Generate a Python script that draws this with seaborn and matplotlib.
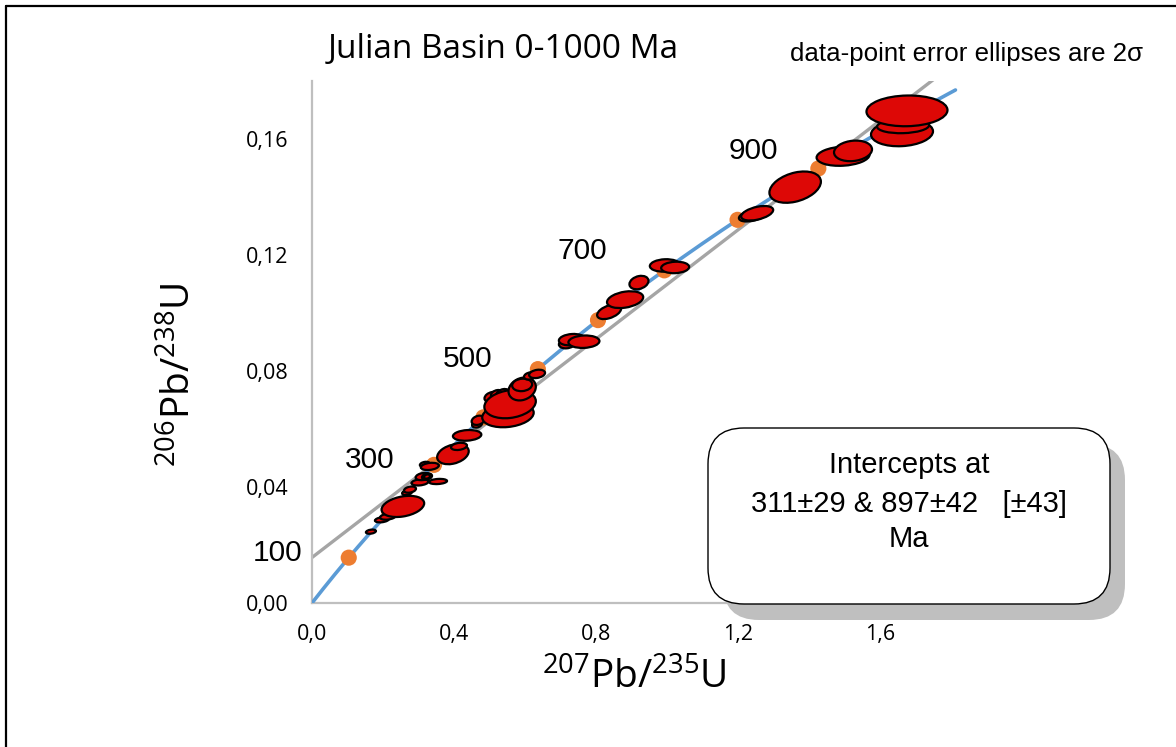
import numpy as np
import pandas as pd
import matplotlib
matplotlib.use("Agg")
import matplotlib.pyplot as plt
import seaborn as sns
from matplotlib.patches import Ellipse, FancyBboxPatch
from matplotlib.lines import Line2D

# ---------------- data ----------------
# decay constants (per Ma)
L238 = 1.55125e-4
L235 = 9.8485e-4

concordia_range_ma = [0, 1050]
marker_ages_ma = [100, 200, 300, 400, 500, 600, 700, 800, 900, 1000]
label_ages_ma = [100, 300, 500, 700, 900]
intercepts_ma = [311, 897]

# analyses: 207Pb/235U, 206Pb/238U, 2-sigma half extents, error correlation
x_ratio = [0.166, 0.197, 0.214, 0.256, 0.268, 0.276, 0.304, 0.313, 0.324, 0.324,
           0.355, 0.318, 0.332, 0.397, 0.414, 0.437, 0.465, 0.468, 0.507, 0.521,
           0.538, 0.552, 0.558, 0.592, 0.592, 0.614, 0.634, 0.718, 0.732, 0.766,
           0.837, 0.882, 0.921, 0.994, 1.023, 1.242, 1.254, 1.361, 1.496, 1.524,
           1.662, 1.665, 1.676]
y_ratio = [0.0246, 0.0287, 0.0298, 0.0333, 0.0381, 0.0391, 0.0416, 0.0436, 0.0436, 0.0436,
           0.0419, 0.0478, 0.0471, 0.0513, 0.0540, 0.0578, 0.0617, 0.0630, 0.0710, 0.0720,
           0.0720, 0.0648, 0.0686, 0.0738, 0.0752, 0.0783, 0.0790, 0.0894, 0.0908, 0.0901,
           0.1004, 0.1046, 0.1105, 0.1164, 0.1157, 0.1337, 0.1344, 0.1434, 0.1541, 0.1559,
           0.1621, 0.1645, 0.1697]
x_err2s = [0.0141, 0.0197, 0.0225, 0.0600, 0.0141, 0.0169, 0.0239, 0.0211, 0.0141, 0.0085,
           0.0254, 0.0141, 0.0254, 0.0445, 0.0225, 0.0400, 0.0141, 0.0183, 0.0211, 0.0169,
           0.0197, 0.0725, 0.0725, 0.0385, 0.0282, 0.0169, 0.0225, 0.0225, 0.0366, 0.0437,
           0.0338, 0.0510, 0.0268, 0.0423, 0.0394, 0.0394, 0.0451, 0.0725, 0.0746, 0.0535,
           0.0873, 0.0732, 0.1141]
y_err2s = [0.00072, 0.00090, 0.00108, 0.00365, 0.00090, 0.00108, 0.00108, 0.00125, 0.00108, 0.00072,
           0.00090, 0.00090, 0.00125, 0.00345, 0.00125, 0.00185, 0.00125, 0.00160, 0.00180, 0.00145,
           0.00180, 0.00420, 0.00490, 0.00395, 0.00215, 0.00125, 0.00145, 0.00160, 0.00198, 0.00215,
           0.00250, 0.00290, 0.00232, 0.00215, 0.00198, 0.00215, 0.00250, 0.00540, 0.00335, 0.00355,
           0.00460, 0.00250, 0.00530]
rho = [0.3, 0.3, 0.3, 0.3, 0.3, 0.3, 0.25, 0.25, 0.25, 0.25,
       0.2, 0.25, 0.25, 0.3, 0.25, 0.15, 0.25, 0.25, 0.25, 0.25,
       0.25, 0.2, 0.2, 0.2, 0.1, 0.25, 0.25, 0.15, 0.15, 0.1,
       0.45, 0.3, 0.25, 0.1, 0.1, 0.45, 0.45, 0.35, 0.15, 0.15,
       0.12, 0.1, 0.05]

x_ticks = [0.0, 0.4, 0.8, 1.2, 1.6]
x_tick_labels = ["0,0", "0,4", "0,8", "1,2", "1,6"]
y_ticks = [0.00, 0.04, 0.08, 0.12, 0.16]
y_tick_labels = ["0,00", "0,04", "0,08", "0,12", "0,16"]

title = "Julian Basin 0-1000 Ma"
note = "data-point error ellipses are 2σ"
box_lines = ["Intercepts at", "311±29 & 897±42   [±43]", "Ma"]

# ---------------- helpers ----------------
def conc_x(t):
    return np.exp(L235 * np.asarray(t, float)) - 1

def conc_y(t):
    return np.exp(L238 * np.asarray(t, float)) - 1

# ---------------- style ----------------
sns.set_theme(style="white")
plt.rcParams["font.family"] = ["Open Sans", "DejaVu Sans"]
plt.rcParams["mathtext.fontset"] = "custom"
plt.rcParams["mathtext.rm"] = "Liberation Sans"
plt.rcParams["mathtext.it"] = "Liberation Sans"

W, H = 1176, 747
fig = plt.figure(figsize=(W / 100, H / 100), dpi=100)
fig.patch.set_facecolor("white")
ax = fig.add_axes([312 / W, (H - 603) / H, 710 / W, 522 / H])
ax.set_facecolor("white")

# concordia curve
t_curve = np.linspace(concordia_range_ma[0], concordia_range_ma[1], 400)
conc_df = pd.DataFrame({"x": conc_x(t_curve), "y": conc_y(t_curve)})
# discordia through intercepts
ix = conc_x(intercepts_ma)
iy = conc_y(intercepts_ma)
slope = (iy[1] - iy[0]) / (ix[1] - ix[0])
icpt = iy[0] - slope * ix[0]
disc_x = np.array([0.0, 2.0])
disc_df = pd.DataFrame({"x": disc_x, "y": icpt + slope * disc_x})

sns.lineplot(data=disc_df, x="x", y="y", ax=ax, color="#A5A5A5", lw=2.4,
             sort=False, estimator=None, zorder=2)
sns.lineplot(data=conc_df, x="x", y="y", ax=ax, color="#5B9BD5", lw=2.6,
             sort=False, estimator=None, zorder=3)

mk_df = pd.DataFrame({"x": conc_x(marker_ages_ma), "y": conc_y(marker_ages_ma)})
sns.scatterplot(data=mk_df, x="x", y="y", ax=ax, color="#ED7D31", s=135,
                edgecolor="none", zorder=4)

label_offsets = [(-71, 5), (-64, 5), (-70, 10), (-82, 19), (-65, 17)]
for age, off in zip(label_ages_ma, label_offsets):
    ax.annotate(str(age), xy=(float(conc_x(age)), float(conc_y(age))),
                xytext=off, textcoords="offset pixels",
                ha="center", va="center", fontsize=21.5,
                family="Liberation Sans", color="black", zorder=6)

# error ellipses
for xc, yc, sx, sy, r in zip(x_ratio, y_ratio, x_err2s, y_err2s, rho):
    cov = np.array([[sx * sx, r * sx * sy], [r * sx * sy, sy * sy]])
    vals, vecs = np.linalg.eigh(cov)
    order = vals.argsort()[::-1]
    vals, vecs = vals[order], vecs[:, order]
    ang = np.degrees(np.arctan2(vecs[1, 0], vecs[0, 0]))
    e = Ellipse((xc, yc), 2 * np.sqrt(vals[0]), 2 * np.sqrt(vals[1]), angle=ang,
                facecolor="#DD0806", edgecolor="black", lw=1.6, zorder=5)
    ax.add_patch(e)

ax.set_xlim(0, 2.0)
ax.set_ylim(0, 0.18)
ax.set_xticks(x_ticks)
ax.set_xticklabels(x_tick_labels)
ax.set_yticks(y_ticks)
ax.set_yticklabels(y_tick_labels)
ax.tick_params(axis="both", length=0, labelsize=15.5, colors="black")
ax.tick_params(axis="x", pad=15)
ax.tick_params(axis="y", pad=17)
ax.set_xlabel("")
ax.set_ylabel("")
for s in ["top", "right"]:
    ax.spines[s].set_visible(False)
for s in ["left", "bottom"]:
    ax.spines[s].set_color("#BFBFBF")
    ax.spines[s].set_linewidth(1.6)
ax.grid(False)

# axis labels
fig.text(634 / W, 1 - 689 / H, r"$\mathregular{^{207}Pb/^{235}U}$", ha="center",
         va="baseline", fontsize=28, color="black")
fig.text(191 / W, 1 - 375 / H, r"$\mathregular{^{206}Pb/^{238}U}$", ha="center",
         va="baseline", rotation=90, rotation_mode="anchor", fontsize=28, color="black")

# title and note
fig.text(503 / W, 1 - 58 / H, title, ha="center", va="baseline", fontsize=24,
         family="Open Sans", color="black")
fig.text(966 / W, 1 - 61 / H, note, ha="center", va="baseline", fontsize=18.6,
         family="Liberation Sans", color="black")

# intercept box with shadow
shadow = FancyBboxPatch((7.23, 1.27), 4.02, 1.76,
                        boxstyle="round,pad=0,rounding_size=0.36",
                        transform=fig.dpi_scale_trans, facecolor="#BFBFBF",
                        edgecolor="none", zorder=10)
box = FancyBboxPatch((7.08, 1.43), 4.02, 1.76,
                     boxstyle="round,pad=0,rounding_size=0.36",
                     transform=fig.dpi_scale_trans, facecolor="white",
                     edgecolor="black", lw=1.0, zorder=11)
fig.add_artist(shadow)
fig.add_artist(box)
for txt, ypx in zip(box_lines, [465, 504, 539]):
    t = fig.text(909 / W, 1 - ypx / H, txt, ha="center", va="center", fontsize=21,
                 family="Liberation Sans", color="black")
    t.set_zorder(12)

# frame lines (top and left)
fig.add_artist(Line2D([5.5 / W, 5.5 / W], [0, 1 - 5.5 / H], transform=fig.transFigure,
                      color="black", lw=1.6))
fig.add_artist(Line2D([5.5 / W, 1], [1 - 5.5 / H, 1 - 5.5 / H], transform=fig.transFigure,
                      color="black", lw=1.6))

fig.savefig("out.png", dpi=100, facecolor="white")
